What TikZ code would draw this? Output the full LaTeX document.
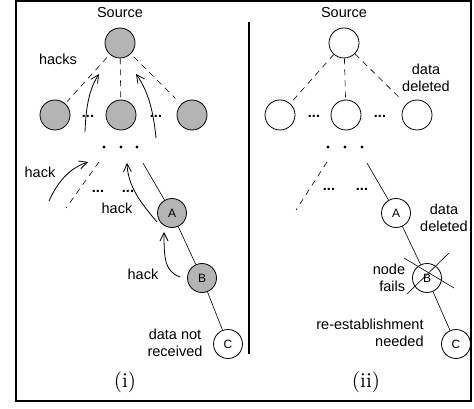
\documentclass[tikz,border=0pt]{standalone}
\usepackage{fontspec}
\newfontfamily\arialfont{Liberation Sans}
\usepackage{tikz}
\usetikzlibrary{arrows.meta, positioning}
\definecolor{nodegray}{RGB}{180,180,180}

\begin{document}
\begin{tikzpicture}[x=1pt, y=-1pt,
    tree/.style={circle, draw=black, line width=0.8pt, minimum size=30pt, inner sep=0pt},
    hit/.style={tree, fill=nodegray},
    letter/.style={circle, draw=black, line width=0.8pt, minimum size=29pt, inner sep=0pt,
        font=\arialfont\fontsize{12}{12}\selectfont},
    txt/.style={font=\arialfont\fontsize{14.5}{17}\selectfont, align=center, inner sep=0pt},
    gap/.style={font=\arialfont\bfseries\fontsize{14.5}{17}\selectfont, inner sep=0pt},
    caption/.style={inner sep=0pt},
    link/.style={line width=0.6pt},
    weak/.style={line width=0.6pt, dash pattern=on 6pt off 5pt},
    hackarrow/.style={line width=0.8pt, -{Straight Barb[length=8pt, width=8pt]}},
    dot/.style={circle, fill=black, inner sep=0pt, minimum size=3.2pt}]
    \useasboundingbox (0,0) rectangle (474,409);
    \draw[line width=2pt] (16,1) rectangle (471,401);
    \coordinate (sepTop) at (249,22);
    \coordinate (sepBot) at (249,354);
    \draw[line width=2.5pt] (sepTop) -- (sepBot);

    % (i)
    \node[hit] (r1) at (120,43) {};
    \node[txt, above=9.5pt of r1] (src1) {Source};
    \node[hit] (a1) at (55,115) {};
    \node[hit] (b1) at (121,115) {};
    \node[hit] (c1) at (192,115) {};
    \node[gap] (ab1) at (88,116) {...};
    \node[gap] (bc1) at (156,116) {...};
    \draw[weak, shorten <=4pt, shorten >=3pt] (r1) -- (a1);
    \draw[weak, shorten >=2pt] (r1) -- (b1);
    \draw[weak, shorten <=4pt, shorten >=8pt] (r1) -- (c1);
    \foreach \x [count=\i] in {104,121,137}
        \node[dot] (lv1\i) at (\x,147) {};
    \node[letter, fill=nodegray] (A1) at (172,213) {A};
    \node[letter, fill=nodegray] (B1) at (202,278) {B};
    \node[letter] (C1) at (228,344) {C};
    \coordinate (dl1) at (99,162);
    \coordinate (dl2) at (66,208);
    \coordinate (sl1) at (143,163);
    \draw[weak] (dl1) -- (dl2);
    \draw[link] (sl1) -- (A1);
    \draw[link] (A1) -- (B1);
    \draw[link] (B1) -- (C1);
    \node[gap] (lo1) at (98,191) {...};
    \node[gap] (lo2) at (128,191) {...};
    \coordinate (h1s) at (85,132);
    \coordinate (h1e) at (99,74);
    \coordinate (h2s) at (156,138);
    \coordinate (h2e) at (136,74);
    \coordinate (h3s) at (49,201);
    \coordinate (h3e) at (88,162);
    \coordinate (h4s) at (157,222);
    \coordinate (h4e) at (127,163);
    \coordinate (h5s) at (180,277);
    \coordinate (h5e) at (164,232);
    \draw[hackarrow] (h1s) .. controls (86,104) and (90,88) .. (h1e);
    \draw[hackarrow] (h2s) .. controls (153,106) and (146,88) .. (h2e);
    \draw[hackarrow] (h3s) .. controls (58,181) and (70,168) .. (h3e);
    \draw[hackarrow] (h4s) .. controls (140,202) and (128,186) .. (h4e);
    \draw[hackarrow] (h5s) .. controls (165,271) and (164,260) .. (h5e);
    \node[txt] (hk0) at (58,59) {hacks};
    \node[txt] (hk1) at (40,172) {hack};
    \node[txt] (hk2) at (117,208) {hack};
    \node[txt] (hk3) at (143,274) {hack};
    \node[txt] (lost) at (175,343) {data not\\received};
    \node[caption] (cap1) at (125,382) {\scalebox{2.1}{(i)}};

    % (ii)
    \node[tree] (r2) at (344,43) {};
    \node[txt, above=9.5pt of r2] (src2) {Source};
    \node[tree] (a2) at (280,115) {};
    \node[tree] (b2) at (346,115) {};
    \node[tree] (c2) at (417,115) {};
    \node[gap] (ab2) at (314,116) {...};
    \node[gap] (bc2) at (380,116) {...};
    \draw[weak, shorten >=3pt] (r2) -- (a2);
    \draw[weak, shorten >=2pt] (r2) -- (b2);
    \draw[weak, shorten >=8pt] (r2) -- (c2);
    \node[txt] (del1) at (426,78) {data\\deleted};
    \foreach \x [count=\i] in {328,345,362}
        \node[dot] (lv2\i) at (\x,147) {};
    \node[letter] (A2) at (396,213) {A};
    \node[letter] (B2) at (427,278) {B};
    \node[letter] (C2) at (456,344) {C};
    \coordinate (dr1) at (327,162);
    \coordinate (dr2) at (296,210);
    \coordinate (sr1) at (367,163);
    \draw[weak] (dr1) -- (dr2);
    \draw[link] (sr1) -- (A2);
    \draw[link] (A2) -- (B2);
    \draw[link] (B2) -- (C2);
    \node[gap] (lo3) at (329,189) {...};
    \node[gap] (lo4) at (362,189) {...};
    \draw[link] ([shift={(-23,-20)}]B2.center) -- ([shift={(27,10)}]B2.center);
    \draw[link] ([shift={(-20,16)}]B2.center) -- ([shift={(22,-25)}]B2.center);
    \node[txt] (del2) at (444,218) {data\\deleted};
    \node[txt, align=right] (fail) at (389,278) {node\\fails};
    \node[txt, align=right] (renew) at (370,333) {re-establishment\\needed};
    \node[caption] (cap2) at (366,382) {\scalebox{2.1}{(ii)}};
\end{tikzpicture}
\end{document}
